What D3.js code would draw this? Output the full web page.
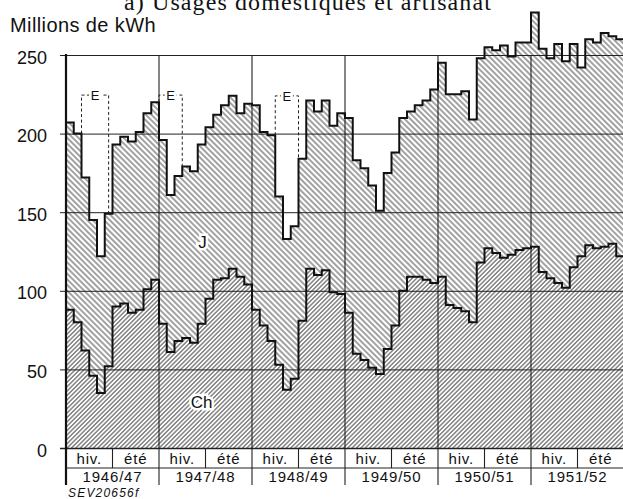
<!DOCTYPE html>
<html>
<head>
<meta charset="utf-8">
<script src="https://cdn.jsdelivr.net/npm/d3@7"></script>
<style>
  body { margin: 0; background: #fff; }
  svg { display: block; font-family: "Liberation Sans", Arial, sans-serif; }
</style>
</head>
<body>
<svg id="chart" width="623" height="499"></svg>
<script>
// years and half-years shown under the axis
const years = ["1946/47", "1947/48", "1948/49", "1949/50", "1950/51", "1951/52"];
const seasons = ["hiv.", "été"];
const yTicks = [0, 50, 100, 150, 200, 250];

// monthly totals (top line), Oct 1946 .. Sep 1952, millions of kWh
const totalValues = [
  207, 200, 172, 145, 122, 149, 193, 198, 195, 201, 213, 220,
  196, 161, 173, 179, 176, 193, 204, 212, 218, 224, 213, 219,
  218, 201, 199, 160, 133, 141, 184, 221, 214, 221, 205, 213,
  210, 183, 178, 167, 151, 175, 188, 210, 214, 218, 221, 228,
  245, 225, 225, 227, 209, 248, 255, 253, 256, 249, 258, 258,
  277, 254, 248, 257, 246, 257, 242, 260, 258, 264, 262, 260
];
// monthly "Ch" part (lower line)
const chValues = [
  88, 80, 62, 46, 35, 52, 90, 92, 86, 88, 101, 107,
  79, 61, 68, 70, 67, 79, 95, 107, 108, 114, 109, 104,
  88, 78, 68, 53, 37, 44, 81, 114, 110, 113, 99, 98,
  86, 60, 56, 51, 47, 63, 78, 100, 109, 109, 107, 105,
  109, 91, 89, 87, 80, 118, 127, 124, 121, 123, 126, 127,
  128, 112, 108, 105, 102, 115, 122, 129, 127, 128, 130, 122
];
// dashed "E" boxes (month index start/end, top value)
const eBoxStart = [2, 12, 27];
const eBoxEnd = [5.5, 15, 30];
const eBoxTop = [224.5, 224.5, 224];

const W = 623, H = 499;
const svg = d3.select("#chart");
svg.append("rect").attr("width", W).attr("height", H).attr("fill", "#fff");

const x = d3.scaleLinear().domain([0, 72]).range([66, 624]);
const y = d3.scaleLinear().domain([0, 250]).range([448, 55]);

// hatching patterns
const defs = svg.append("defs");
function hatch(id, angle, gap) {
  defs.append("pattern")
    .attr("id", id)
    .attr("patternUnits", "userSpaceOnUse")
    .attr("width", 8).attr("height", gap)
    .attr("patternTransform", `rotate(${angle})`)
    .append("line")
    .attr("x1", 0).attr("x2", 8)
    .attr("y1", gap / 2).attr("y2", gap / 2)
    .attr("stroke", "#222").attr("stroke-width", 0.85);
}
hatch("hJ", 45, 4.0);
hatch("hCh", -45, 3.1);

const pts = totalValues.map((t, i) => ({ i: i, t: t, c: chValues[i] }));
pts.push({ i: 72, t: totalValues[71], c: chValues[71] });

const areaCh = d3.area().x(d => x(d.i)).y0(y(0)).y1(d => y(d.c)).curve(d3.curveStepAfter);
const areaJ = d3.area().x(d => x(d.i)).y0(d => y(d.c)).y1(d => y(d.t)).curve(d3.curveStepAfter);

svg.append("path").datum(pts).attr("d", areaCh).attr("fill", "url(#hCh)");
svg.append("path").datum(pts).attr("d", areaJ).attr("fill", "url(#hJ)");

// horizontal grid + tick labels
const yAxis = d3.axisLeft(y).tickValues(yTicks).tickSize(-(W - 60)).tickPadding(13);
const gy = svg.append("g").attr("transform", "translate(60,0)").call(yAxis);
gy.select(".domain").remove();
gy.selectAll(".tick line").attr("stroke", "#222").attr("stroke-width", d => d === 0 ? 1.6 : 1);
gy.selectAll(".tick text")
  .attr("font-size", 18).attr("fill", "#111").attr("dy", "0.45em")
  .attr("font-family", "Liberation Sans, Arial, sans-serif");

// vertical lines
for (let k = 1; k < years.length; k++) {
  svg.append("line").attr("x1", x(12 * k)).attr("x2", x(12 * k))
    .attr("y1", y(250)).attr("y2", 485).attr("stroke", "#222").attr("stroke-width", 1.1);
}
svg.append("line").attr("x1", x(0)).attr("x2", x(0))
  .attr("y1", y(250) - 1).attr("y2", 485).attr("stroke", "#111").attr("stroke-width", 2.2);
for (let k = 0; k < years.length; k++) {
  svg.append("line").attr("x1", x(12 * k + 6)).attr("x2", x(12 * k + 6))
    .attr("y1", y(0)).attr("y2", 468).attr("stroke", "#222").attr("stroke-width", 1.1);
}
svg.append("line").attr("x1", x(0)).attr("x2", W).attr("y1", 468).attr("y2", 468)
  .attr("stroke", "#222").attr("stroke-width", 1.1);

// step outlines
const lineT = d3.line().x(d => x(d.i)).y(d => y(d.t)).curve(d3.curveStepAfter);
const lineC = d3.line().x(d => x(d.i)).y(d => y(d.c)).curve(d3.curveStepAfter);
svg.append("path").datum(pts).attr("d", lineT).attr("fill", "none").attr("stroke", "#111").attr("stroke-width", 2);
svg.append("path").datum(pts).attr("d", lineC).attr("fill", "none").attr("stroke", "#111").attr("stroke-width", 2);

// E boxes
function topAt(pos) {
  const i = Math.floor(pos);
  if (pos === i) return Math.max(i > 0 ? totalValues[i - 1] : 0, totalValues[i]);
  return totalValues[i];
}
eBoxStart.forEach((s, k) => {
  const e = eBoxEnd[k], top = eBoxTop[k];
  svg.append("path")
    .attr("d", `M${x(s)},${y(topAt(s))}V${y(top)}H${x(e)}V${y(topAt(e))}`)
    .attr("fill", "none").attr("stroke", "#222").attr("stroke-width", 1)
    .attr("stroke-dasharray", "3,2.5");
  const cx = x((s + e) / 2);
  svg.append("rect").attr("x", cx - 6).attr("y", y(top) - 6).attr("width", 12).attr("height", 12).attr("fill", "#fff");
  svg.append("text").attr("x", cx).attr("y", y(top) + 5)
    .attr("text-anchor", "middle").attr("font-size", 13).attr("fill", "#111").text("E");
});

// area labels
function areaLabel(txt, mi, v) {
  svg.append("text").attr("x", x(mi)).attr("y", y(v))
    .attr("text-anchor", "middle").attr("dominant-baseline", "central")
    .attr("font-size", 17).attr("fill", "#111")
    .attr("stroke", "#fff").attr("stroke-width", 5).attr("paint-order", "stroke")
    .text(txt);
}
areaLabel("J", 17.6, 131);
areaLabel("Ch", 17.5, 29);

// bottom labels
years.forEach((yr, k) => {
  seasons.forEach((s, j) => {
    svg.append("text").attr("x", x(12 * k + 3 + 6 * j)).attr("y", 464)
      .attr("text-anchor", "middle").attr("font-size", 15).attr("letter-spacing", 0.8)
      .attr("fill", "#111").text(s);
  });
  svg.append("text").attr("x", x(12 * k + 6)).attr("y", 482)
    .attr("text-anchor", "middle").attr("font-size", 15).attr("letter-spacing", 0.8)
    .attr("fill", "#111").text(yr);
});

// header texts
svg.append("text").attr("x", 308).attr("y", 10).attr("text-anchor", "middle")
  .attr("font-family", "Liberation Serif, DejaVu Serif, serif")
  .attr("font-size", 24).attr("letter-spacing", 1.1).attr("fill", "#111")
  .text("a) Usages domestiques et artisanat");
svg.append("text").attr("x", 10).attr("y", 32)
  .attr("font-size", 20).attr("letter-spacing", 0.4).attr("fill", "#111")
  .text("Millions de kWh");
svg.append("text").attr("x", 68).attr("y", 497)
  .attr("font-size", 12).attr("font-style", "italic").attr("letter-spacing", 1.2)
  .attr("fill", "#111").text("SEV20656f");
</script>
</body>
</html>
